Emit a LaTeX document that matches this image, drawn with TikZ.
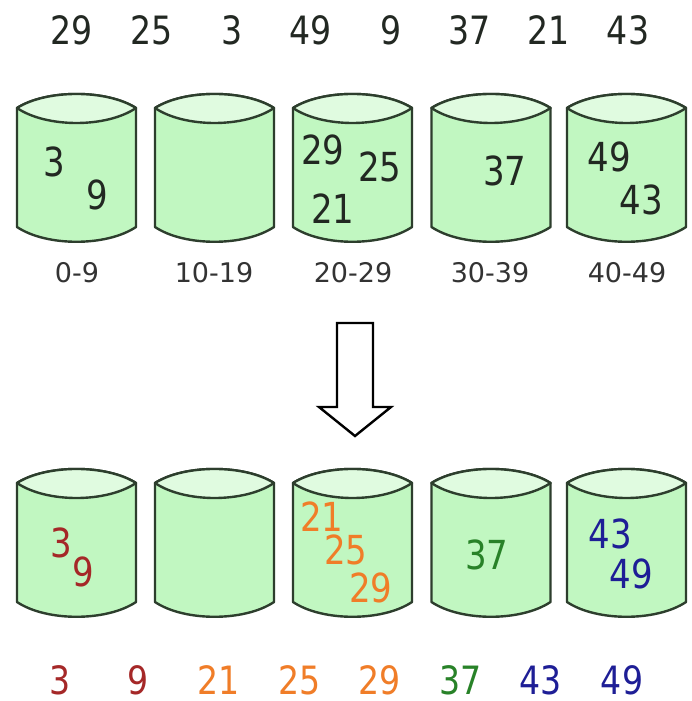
\documentclass[tikz,border=0pt]{standalone}
\usepackage{fontspec}
\setmainfont{DejaVu Sans}
\newfontfamily\numfont{DejaVu Sans}[FakeStretch=0.85]
\begin{document}
\definecolor{bucketbody}{RGB}{193,247,193}
\definecolor{bucketlid}{RGB}{224,251,224}
\definecolor{bucketline}{RGB}{45,62,45}
\definecolor{ink}{RGB}{34,40,34}
\definecolor{labgray}{RGB}{51,51,51}
\definecolor{cred}{RGB}{165,40,40}
\definecolor{corange}{RGB}{240,125,40}
\definecolor{cgreen}{RGB}{40,130,40}
\definecolor{cblue}{RGB}{30,30,150}
\tikzset{
  num/.style={font=\numfont\fontsize{39}{44}\selectfont, text=ink, inner sep=0pt},
  innum/.style={font=\numfont\fontsize{40}{44}\selectfont, text=ink, inner sep=0pt},
  lab/.style={font=\fontsize{27}{30}\selectfont, text=labgray, inner sep=0pt},
  outline/.style={draw=bucketline, line width=2.4pt, line join=round},
  bucket/.pic={
    % body: lid top arc, right side, bottom arc, left side
    \filldraw[outline, fill=bucketbody]
      (-59.5,0) .. controls (-30,-18.7) and (30,-18.7) .. (59.5,0)
      -- (59.5,119) .. controls (30,138.7) and (-30,138.7) .. (-59.5,119) -- cycle;
    % lid: lens between the top arc and the inner arc
    \filldraw[outline, fill=bucketlid]
      (-59.5,0) .. controls (-30,-18.7) and (30,-18.7) .. (59.5,0)
      .. controls (30,20) and (-30,20) .. (-59.5,0) -- cycle;
  }
}
\begin{tikzpicture}[x=1pt, y=-1pt]
\useasboundingbox (0,0) rectangle (692,701);
\fill[white] (0,0) rectangle (692,701);

% unsorted input
\foreach \v/\x [count=\i] in {29/72,25/152,3/232,49/311,9/391,37/470,21/549,43/628}
  \node[num] (in\i) at (\x,30) {\v};

% buckets, first pass
\foreach \cx [count=\i] in {76.5,214.5,352.5,491,626.5}
  \pic at (\cx,108) {bucket};
\node[innum] (a3)  at (54,162)  {3};
\node[innum] (a9)  at (97,195)  {9};
\node[innum] (a29) at (323,150) {29};
\node[innum] (a25) at (380,167) {25};
\node[innum] (a21) at (333,209) {21};
\node[innum] (a37) at (505,171) {37};
\node[innum] (a49) at (609,157) {49};
\node[innum] (a43) at (641,200) {43};

% bucket ranges
\node[lab] (r0) at (77,273)    {0-9};
\node[lab] (r1) at (214,273)   {10-19};
\node[lab] (r2) at (353,273)   {20-29};
\node[lab] (r3) at (490,273)   {30-39};
\node[lab] (r4) at (627,273)   {40-49};

% block arrow
\draw[line width=2.4pt, line join=miter, fill=white]
  (337,323) -- (373,323) -- (373,407) -- (391,407) -- (355,436)
  -- (319,407) -- (337,407) -- cycle;

% buckets, sorted within each
\foreach \cx [count=\i] in {76.5,214.5,352.5,491,626.5}
  \pic at (\cx,483) {bucket};
\node[innum, text=cred]    (b3)  at (61,543)  {3};
\node[innum, text=cred]    (b9)  at (83,572)  {9};
\node[innum, text=corange] (b21) at (322,517) {21};
\node[innum, text=corange] (b25) at (346,550) {25};
\node[innum, text=corange] (b29) at (371,588) {29};
\node[innum, text=cgreen]  (b37) at (487,555) {37};
\node[innum, text=cblue]   (b43) at (610,534) {43};
\node[innum, text=cblue]   (b49) at (631,574) {49};

% sorted output
\node[num, text=cred]    (o1) at (60,680)  {3};
\node[num, text=cred]    (o2) at (138,680) {9};
\node[num, text=corange] (o3) at (219,680) {21};
\node[num, text=corange] (o4) at (300,680) {25};
\node[num, text=corange] (o5) at (380,680) {29};
\node[num, text=cgreen]  (o6) at (461,680) {37};
\node[num, text=cblue]   (o7) at (541,680) {43};
\node[num, text=cblue]   (o8) at (622,680) {49};
\end{tikzpicture}
\end{document}
